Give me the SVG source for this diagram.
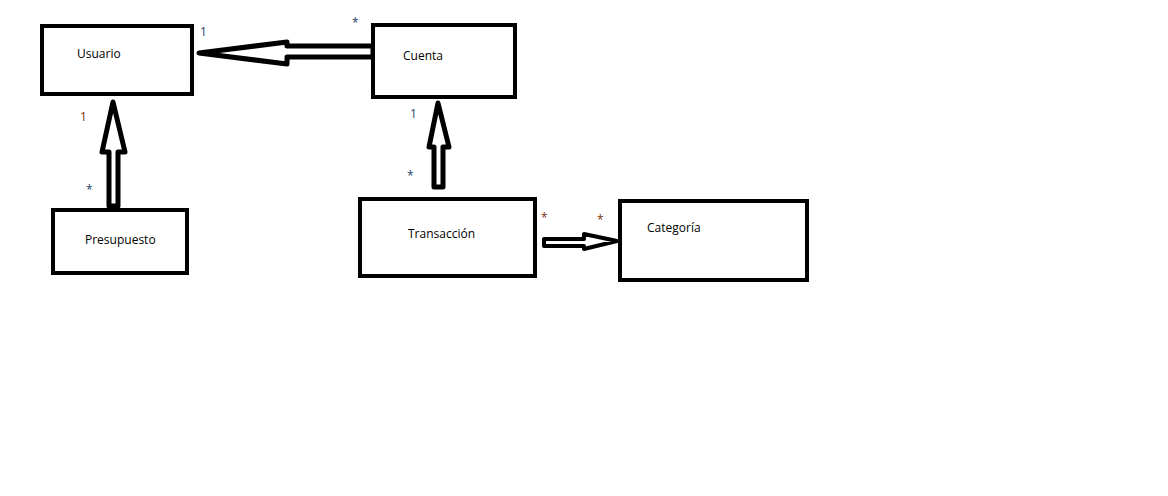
<svg xmlns="http://www.w3.org/2000/svg" width="1168" height="496" viewBox="0 0 1168 496">
<style>
.box{fill:#fff;stroke:#000;stroke-width:4}
.arr{fill:#fff;stroke:#000;stroke-width:5;stroke-linejoin:round}
.arr2{fill:#fff;stroke:#000;stroke-width:4;stroke-linejoin:round}
.name{font-family:"Open Sans","Noto Sans",sans-serif;font-size:12px;fill:#000}
.m{font-family:"Open Sans","Noto Sans",sans-serif;font-size:12px}
.b{fill:#1f4466}
.r{fill:#7a3010}
</style>
<rect width="1168" height="496" fill="#fff"/>
<g id="connectors">
<polygon class="arr" points="199,53 287,42 287,46 373,46 373,57 287,57 287,64"/>
<polygon class="arr" points="113,102 102,152 109,152 109,206 118,206 118,152 125,152"/>
<polygon class="arr" points="438,103 429,147 434,147 434,187 443,187 443,147 449,147"/>
<polygon class="arr2" points="617,241 584,234 584,239 544,239 544,246 584,246 584,249"/>
</g>
<g id="usuario"><rect class="box" x="42" y="26" width="150" height="68"/><text class="name" x="77" y="58">Usuario</text></g>
<g id="cuenta"><rect class="box" x="373" y="25" width="142" height="72"/><text class="name" x="403" y="60">Cuenta</text></g>
<g id="presupuesto"><rect class="box" x="53" y="210" width="134" height="63"/><text class="name" x="85" y="244">Presupuesto</text></g>
<g id="transaccion"><rect class="box" x="360" y="199" width="175" height="77"/><text class="name" x="408" y="238">Transacción</text></g>
<g id="categoria"><rect class="box" x="620" y="201" width="187" height="79"/><text class="name" x="647" y="232">Categoría</text></g>
<g id="labels">
<text class="m b" x="200" y="36">1</text>
<text class="m b" x="352" y="27">*</text>
<text class="m r" x="80" y="121">1</text>
<text class="m b" x="86" y="194">*</text>
<text class="m b" x="410" y="118">1</text>
<text class="m b" x="407" y="180">*</text>
<text class="m r" x="541" y="222">*</text>
<text class="m r" x="597" y="224">*</text>
</g>
</svg>
